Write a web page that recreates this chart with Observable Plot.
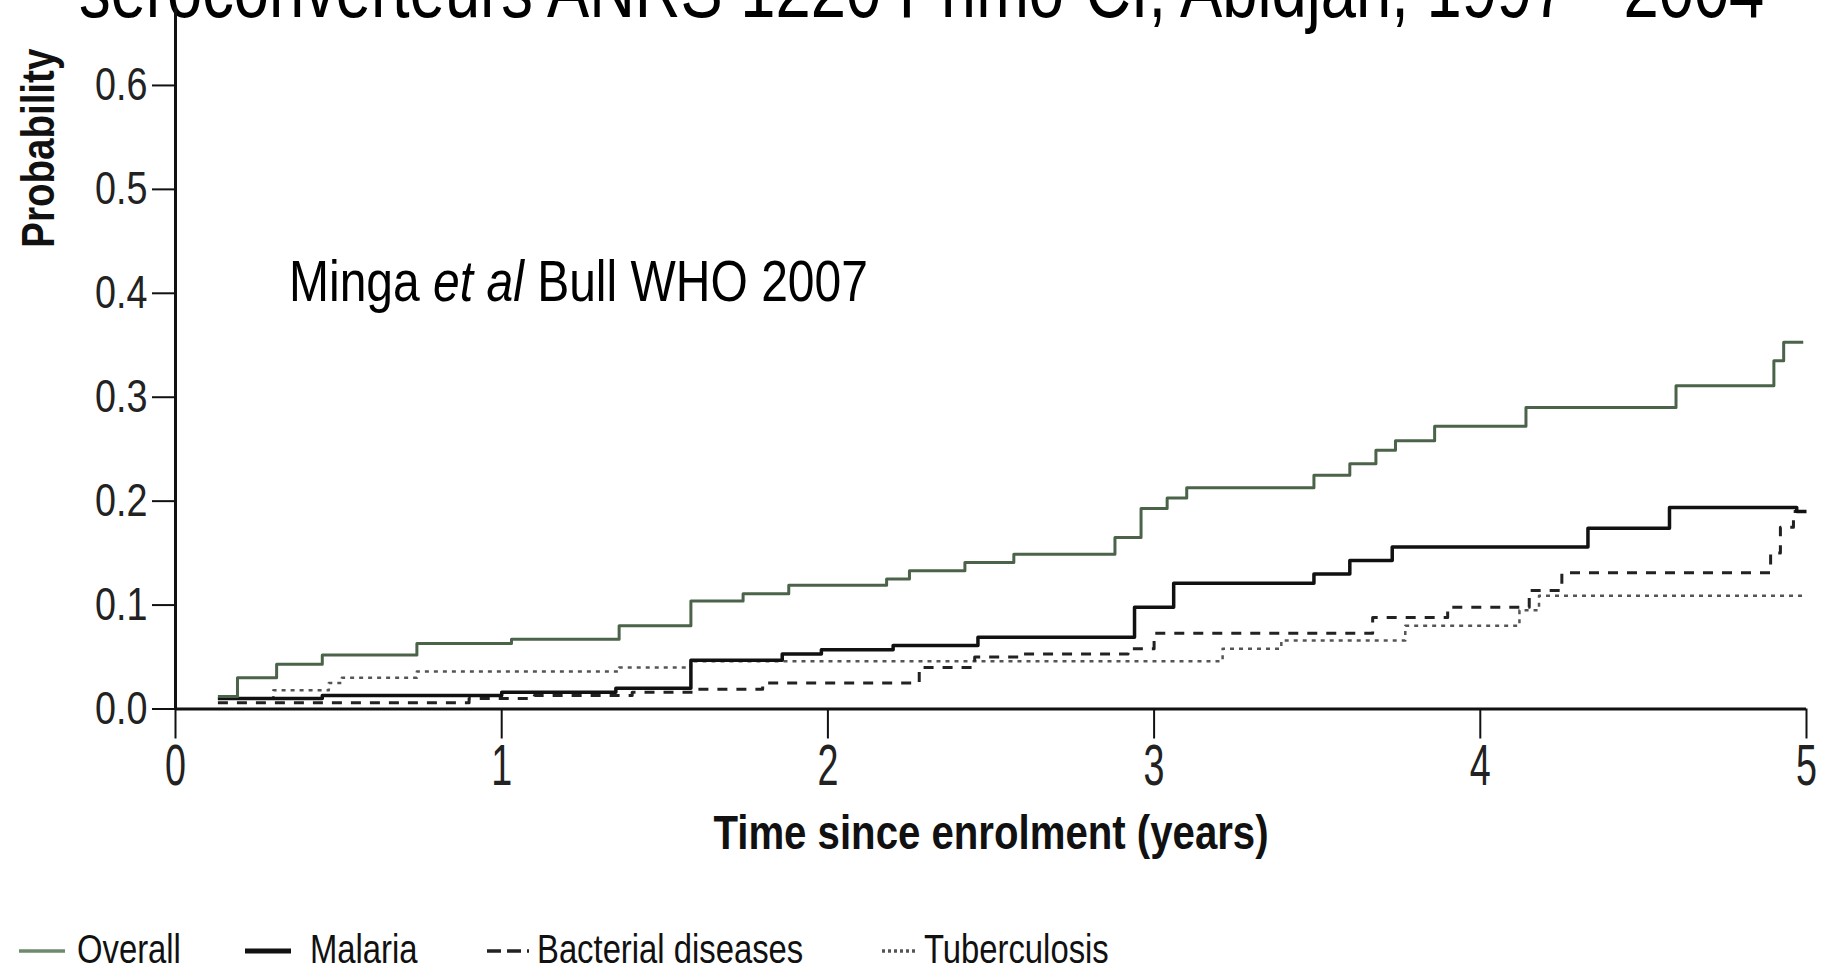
<!DOCTYPE html>
<html><head><meta charset="utf-8">
<script src="https://cdn.jsdelivr.net/npm/d3@7"></script>
<script src="https://cdn.jsdelivr.net/npm/@observablehq/plot@0.6"></script>
<style>
body{margin:0;background:#fff;width:1821px;height:969px;overflow:hidden;position:relative;}
#title{position:absolute;left:79px;top:-36px;font:63.3px/63.3px "Liberation Sans",Arial,sans-serif;white-space:nowrap;transform:scaleY(1.25);transform-origin:0 53.6px;color:#000;}
#cite{position:absolute;left:289px;top:261px;font:48px/48px "Liberation Sans",Arial,sans-serif;white-space:nowrap;transform:scaleY(1.18);transform-origin:0 40.6px;color:#000;}
#chart{position:absolute;left:0;top:0;}
.leg{position:absolute;top:929px;font:40px/40px "Liberation Sans",Arial,sans-serif;white-space:nowrap;color:#111;transform:scaleX(0.82);transform-origin:0 0;}
.sw{position:absolute;top:933px;}
</style>
</head><body>
<div id="title">seroconverteurs ANRS 1220 Primo-CI, Abidjan, 1997 - 2004</div>
<div id="chart"></div>
<div id="cite">Minga <i>et al</i> Bull WHO 2007</div>
<div id="legend"></div>
<script>
// ---- data (time in years, cumulative probability) ----
const seriesNames = ["Overall", "Malaria", "Bacterial diseases", "Tuberculosis"];

const overallT = [0.13,0.19,0.31,0.45,0.74,1.03,1.36,1.58,1.74,1.88,2.18,2.25,2.42,2.57,2.88,2.96,3.04,3.10,3.49,3.60,3.68,3.74,3.86,4.14,4.60,4.90,4.93,4.99];
const overallP = [0.012,0.030,0.043,0.052,0.063,0.067,0.080,0.104,0.111,0.119,0.125,0.133,0.141,0.149,0.165,0.193,0.203,0.213,0.225,0.236,0.249,0.258,0.272,0.290,0.311,0.335,0.353,0.353];

const malariaT = [0.13,0.45,1.00,1.35,1.58,1.86,1.98,2.20,2.46,2.94,3.06,3.49,3.60,3.73,4.33,4.58,4.97,5.00];
const malariaP = [0.010,0.013,0.016,0.020,0.047,0.053,0.057,0.061,0.069,0.098,0.121,0.130,0.143,0.156,0.174,0.194,0.190,0.190];

const bacterialT = [0.13,0.90,1.10,1.40,1.60,1.80,2.28,2.45,2.60,2.92,3.00,3.67,3.90,4.15,4.25,4.89,4.92,4.96,5.00];
const bacterialP = [0.006,0.010,0.013,0.016,0.019,0.025,0.040,0.050,0.053,0.058,0.073,0.088,0.098,0.114,0.131,0.150,0.175,0.190,0.190];

const tbT = [0.13,0.30,0.47,0.51,0.74,1.36,1.58,3.21,3.39,3.77,4.12,4.18,5.00];
const tbP = [0.010,0.018,0.025,0.030,0.036,0.040,0.046,0.058,0.066,0.080,0.095,0.109,0.109];

const xTicks = [0,1,2,3,4,5];
const yTicks = [0,0.1,0.2,0.3,0.4,0.5,0.6];

const xLabel = "Time since enrolment (years)";
const yLabel = "Probability";

// ---- styles ----
const sans = '"Liberation Sans",Arial,sans-serif';
const styles = {
  "Overall": {stroke:"#4b6449", strokeWidth:3, dash:null},
  "Malaria": {stroke:"#111", strokeWidth:3.5, dash:null},
  "Bacterial diseases": {stroke:"#222", strokeWidth:3, dash:"10,9"},
  "Tuberculosis": {stroke:"#555", strokeWidth:2.5, dash:"4,5"}
};

function rows(name, T, P){ return T.map((t,i)=>({series:name, t, p:P[i]})); }
const data = [
  ...rows("Overall", overallT, overallP),
  ...rows("Malaria", malariaT, malariaP),
  ...rows("Bacterial diseases", bacterialT, bacterialP),
  ...rows("Tuberculosis", tbT, tbP)
];

const W = 1821, H = 880;
const lineMarks = seriesNames.slice().reverse().map(name => Plot.line(data.filter(d=>d.series===name), {
  x:"t", y:"p", curve:"step-after",
  stroke: styles[name].stroke, strokeWidth: styles[name].strokeWidth,
  strokeDasharray: styles[name].dash || undefined, strokeLinecap:"butt"
}));

const chart = Plot.plot({
  width: W, height: H,
  marginLeft: 175, marginRight: 15, marginTop: 7, marginBottom: H - 708.5,
  x: {domain:[0,5], label:null},
  y: {domain:[0,0.675], label:null},
  style: {background:"transparent", fontFamily: sans, color:"#111"},
  marks: [
    Plot.axisY(yTicks, {tickSize:23, tickPadding:5, fontSize:46, tickFormat:d=>d.toFixed(1), strokeWidth:2, label:null, fill:"#222"}),
    Plot.axisX(xTicks, {tickSize:30, tickPadding:5, fontSize:46, tickFormat:d=>String(d), strokeWidth:2, label:null, fill:"#222"}),
    ...lineMarks,
    Plot.ruleX([0], {stroke:"#111", strokeWidth:3}),
    Plot.ruleY([0], {stroke:"#111", strokeWidth:3}),
    Plot.text([xLabel], {frameAnchor:"bottom", textAnchor:"middle", dy:140, fontSize:49, fontWeight:"bold", fill:"#111"}),
    Plot.text([yLabel], {frameAnchor:"left", textAnchor:"middle", lineAnchor:"middle", rotate:-90, dx:-137, dy:-210, fontSize:47, fontWeight:"bold", fill:"#111"})
  ]
});
document.getElementById("chart").appendChild(chart);

// condensed look of the original lettering: squash text horizontally (and stretch x tick labels)
function squash(text, sx, sy){
  const isNum = v => v != null && v !== "" && !isNaN(+v);
  const ax = text.getAttribute("x"), ay = text.getAttribute("y");
  let tx = 0, ty = 0;
  if (isNum(ax)) { tx = +ax; text.removeAttribute("x"); }
  if (isNum(ay)) { ty = +ay; text.removeAttribute("y"); }
  const tr = text.getAttribute("transform") || "";
  text.setAttribute("transform", `${tr} translate(${tx},${ty}) scale(${sx},${sy})`);
}
d3.select(chart).selectAll('g[aria-label="x-axis tick label"] text').each(function(){ squash(this, 0.82, 1.25); });
d3.select(chart).selectAll('g[aria-label="y-axis tick label"] text').each(function(){ squash(this, 0.82, 1); });
d3.select(chart).selectAll('g[aria-label="text"] text').each(function(){ squash(this, 0.82, 1); });

// ---- legend ----
const legendPos = {
  "Overall": {x1:19, x2:65, tx:77},
  "Malaria": {x1:245, x2:291, tx:310},
  "Bacterial diseases": {x1:487, x2:529, tx:537},
  "Tuberculosis": {x1:882, x2:916, tx:924}
};
const legend = document.getElementById("legend");
seriesNames.forEach(name=>{
  const p = legendPos[name], s = styles[name];
  const svg = d3.create("svg").attr("class","sw").attr("width", p.x2-p.x1).attr("height", 36)
    .style("left", p.x1+"px");
  svg.append("line").attr("x1",0).attr("x2",p.x2-p.x1).attr("y1",18).attr("y2",18)
    .attr("stroke", name==="Overall" ? "#6d8a6a" : s.stroke)
    .attr("stroke-width", name==="Malaria" ? 5 : 3.5)
    .attr("stroke-dasharray", name==="Bacterial diseases" ? "14,6" : (name==="Tuberculosis" ? "3,3" : null));
  legend.appendChild(svg.node());
  const t = document.createElement("div");
  t.className = "leg"; t.style.left = p.tx+"px"; t.textContent = name;
  legend.appendChild(t);
});
</script>
</body></html>
